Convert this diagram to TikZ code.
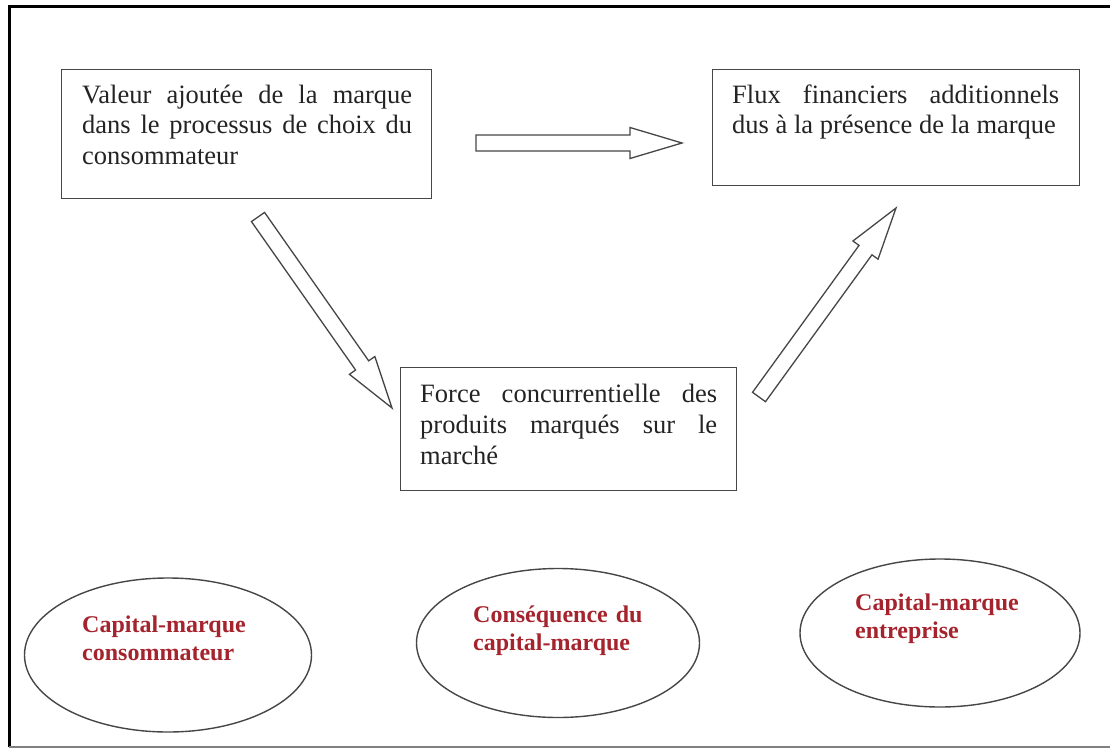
\documentclass[tikz,border=0pt]{standalone}
\usepackage{fontspec}
\setmainfont{Liberation Serif}
\usepackage{tikz}
\usetikzlibrary{calc, shapes.geometric}
\definecolor{rougeCM}{RGB}{165,35,45}
\definecolor{trait}{RGB}{70,70,70}
\definecolor{encre}{RGB}{35,35,35}
\hyphenpenalty=10000
\exhyphenpenalty=10000
\tolerance=9999

\tikzset{
  cadre/.style={draw=trait, line width=1.4pt, rectangle, inner sep=0pt, anchor=north west},
  texte/.style={inner sep=0pt, anchor=base west, align=justify, text=encre, font=\fontsize{26.5}{31}\selectfont},
  pastille/.style={draw=trait, line width=1.4pt, ellipse, inner sep=0pt},
  etiquette/.style={inner sep=0pt, anchor=base west, align=left, text width=180pt, text=rougeCM, font=\bfseries\fontsize{24}{28}\selectfont},
  flechebloc/.style={draw=trait, line width=1.3pt, fill=white, line join=miter},
}

% fleche pleine de #1 vers #2
\newcommand{\blocfleche}[3]{%
  \coordinate (#3-b) at ($(#2)!52pt!(#1)$);
  \draw[flechebloc] ($(#1)!8pt!90:(#2)$) -- ($(#3-b)!8pt!90:(#2)$) -- ($(#3-b)!15.5pt!90:(#2)$) -- (#2)
    -- ($(#3-b)!15.5pt!-90:(#2)$) -- ($(#3-b)!8pt!-90:(#2)$) -- ($(#1)!8pt!-90:(#2)$) -- cycle;
}

\begin{document}
\begin{tikzpicture}[x=1pt, y=-1pt]
  \useasboundingbox (0,0) rectangle (1110,749);

  % cadre
  \draw[line width=3pt, black] (1110,7) -- (9,7) -- (9,747);
  \draw[line width=2pt, gray] (9,747) -- (1110,747);

  % blocs
  \node[cadre, minimum width=370pt, minimum height=129pt] (valeur) at (61,69) {};
  \node[cadre, minimum width=367pt, minimum height=116pt] (flux) at (712,69) {};
  \node[cadre, minimum width=336pt, minimum height=123pt] (force) at (400,367) {};

  \node[texte, text width=330pt] (valeur-txt) at (82,103) {Valeur ajoutée de la marque dans le processus de choix du consommateur};
  \node[texte, text width=327pt] (flux-txt) at (732,103) {Flux financiers additionnels dus à la présence de la marque};
  \node[texte, text width=297pt] (force-txt) at (420,402) {Force concurrentielle des produits marqués sur le marché};

  % fleches
  \coordinate (h1) at (476,143);
  \coordinate (h2) at (682,143);
  \coordinate (d1) at (258,217);
  \coordinate (d2) at (392,408);
  \coordinate (m1) at (759,397);
  \coordinate (m2) at (896,208);
  \blocfleche{h1}{h2}{fh}
  \blocfleche{d1}{d2}{fd}
  \blocfleche{m1}{m2}{fm}

  % ellipses
  \node[pastille, minimum width=287pt, minimum height=154pt] (cmc) at (168,655) {};
  \node[pastille, minimum width=283pt, minimum height=149pt] (conseq) at (558,643) {};
  \node[pastille, minimum width=280pt, minimum height=148pt] (cme) at (940,633) {};

  \node[etiquette] (cmc-txt) at (82,632) {Capital-marque\\consommateur};
  \node[etiquette] (conseq-txt) at (473,622) {Conséquence du\\capital-marque};
  \node[etiquette] (cme-txt) at (855,610) {Capital-marque\\entreprise};
\end{tikzpicture}
\end{document}
